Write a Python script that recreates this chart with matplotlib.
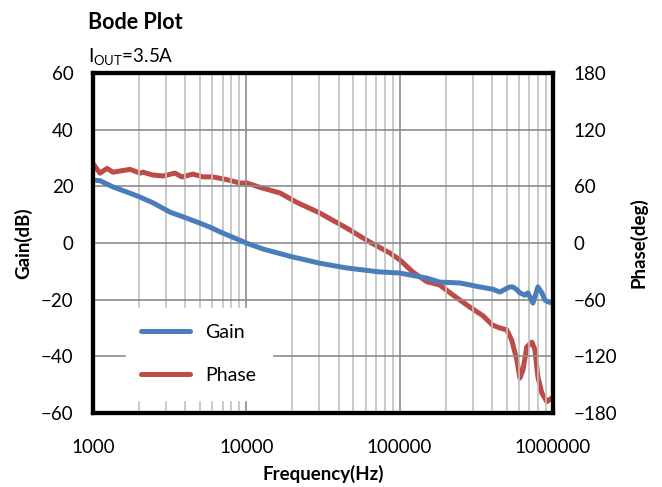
import numpy as np
import matplotlib.pyplot as plt
from matplotlib.ticker import FixedLocator, LogLocator, NullFormatter

plt.rcParams['font.family'] = ['Lato', 'DejaVu Sans']

# Gain curve (Hz, dB)
gain_freq = [1000, 1110, 1350, 1743, 2028, 2460, 3180, 3805, 4770, 5800, 6760, 8200,
             10000, 13000, 20000, 30000, 45000, 74000, 100700, 151000, 183000, 247000,
             334000, 405000, 452000, 501000, 525000, 549000, 583000, 610000, 658000,
             688000, 742000, 800000, 849000, 888000, 916000, 987000]
gain_db = [22.2, 22.0, 19.8, 17.6, 16.2, 14.2, 10.9, 9.4, 7.4, 5.6, 3.9, 2.0,
           0.0, -2.2, -4.9, -7.1, -8.8, -10.2, -10.6, -12.4, -13.8, -14.1,
           -15.5, -16.3, -17.3, -16.0, -15.5, -15.5, -16.5, -17.6, -18.4,
           -17.6, -21.2, -15.5, -17.6, -20.1, -20.6, -21.2]

# Phase curve (Hz, deg)
phase_freq = [1000, 1110, 1234, 1350, 1743, 2028, 2118, 2460, 2860, 3425, 3805, 4490,
              5220, 6060, 7500, 9100, 10100, 12270, 16600, 21400, 30000, 45000,
              64000, 86500, 100700, 122000, 151000, 183000, 223000, 287000, 350000,
              405000, 452000, 501000, 540000, 583000, 610000, 640000, 677000, 731000,
              765000, 800000, 849000, 916000, 987000]
phase_deg = [84, 74, 79, 75, 78, 74, 75, 72, 71, 74, 70, 73,
             70, 70, 67, 63.5, 63.5, 59, 53, 43, 32, 16,
             1, -10.6, -18, -30.7, -41, -44.5, -55, -67.8, -77,
             -87, -90, -92, -103, -124, -143, -134, -110, -105,
             -113, -142, -159, -168, -164]

blue = '#4a7ebb'
red = '#be4b48'

fig = plt.figure(figsize=(6.62, 4.87), dpi=100)
ax = fig.add_axes([0.1405, 0.152, 0.6945, 0.698])
ax2 = ax.twinx()

ax.set_xscale('log')
ax.set_xlim(1000, 1000000)
ax.set_ylim(-60, 60)
ax2.set_ylim(-180, 180)

ax.xaxis.set_major_locator(FixedLocator([1e3, 1e4, 1e5, 1e6]))
ax.set_xticklabels(['1000', '10000', '100000', '1000000'])
ax.xaxis.set_minor_locator(LogLocator(base=10, subs=np.arange(2, 10)))
ax.xaxis.set_minor_formatter(NullFormatter())
ax.set_yticks(np.arange(-60, 61, 20))
ax2.set_yticks(np.arange(-180, 181, 60))

ax.grid(True, which='major', axis='y', color='#8c8c8c', linewidth=1.2)
ax.grid(True, which='major', axis='x', color='#8c8c8c', linewidth=1.2)
ax.grid(True, which='minor', axis='x', color='#c0c0c0', linewidth=1.2)
ax.set_axisbelow(True)

l1, = ax.plot(gain_freq, gain_db, color=blue, lw=3.6, solid_capstyle='round',
              solid_joinstyle='round', label='Gain')
l2, = ax2.plot(phase_freq, phase_deg, color=red, lw=3.6, solid_capstyle='round',
               solid_joinstyle='round', label='Phase')

ax.tick_params(axis='y', length=0, labelsize=13.5, pad=14)
ax.tick_params(axis='x', which='both', length=0, labelsize=13.5, pad=19)
ax2.tick_params(axis='y', length=0, labelsize=13.5, pad=15)
for a in (ax, ax2):
    for s in a.spines.values():
        s.set_linewidth(3)
        s.set_color('black')

ax.set_xlabel('Frequency(Hz)', fontsize=13.5, fontweight='bold')
ax.set_ylabel('Gain(dB)', fontsize=13.5, fontweight='bold')
ax2.set_ylabel('Phase(deg)', fontsize=13.5, fontweight='bold', rotation=90)
ax.xaxis.set_label_coords(0.5, -0.153)
ax.yaxis.set_label_coords(-0.133, 0.5)
ax2.yaxis.set_label_coords(1.166, 0.5)

leg = ax.legend([l1, l2], ['Gain', 'Phase'], loc='lower left',
                bbox_to_anchor=(0.05, 0.01), fontsize=14, frameon=True,
                handlelength=2.5, labelspacing=1.35, borderpad=0.8)
leg.get_frame().set_edgecolor('white')
leg.get_frame().set_facecolor('white')
leg.get_frame().set_alpha(1)
leg.set_zorder(10)
ax.set_zorder(ax2.get_zorder() + 1)
ax.patch.set_visible(False)

fig.text(0.133, 0.953, 'Bode Plot', fontsize=15.5, fontweight='bold', va='center', ha='left')
fig.text(0.133, 0.883, r'$\mathregular{I_{OUT}}$=3.5A', fontsize=13.5, va='center', ha='left')

fig.savefig('out.png', dpi=100)
